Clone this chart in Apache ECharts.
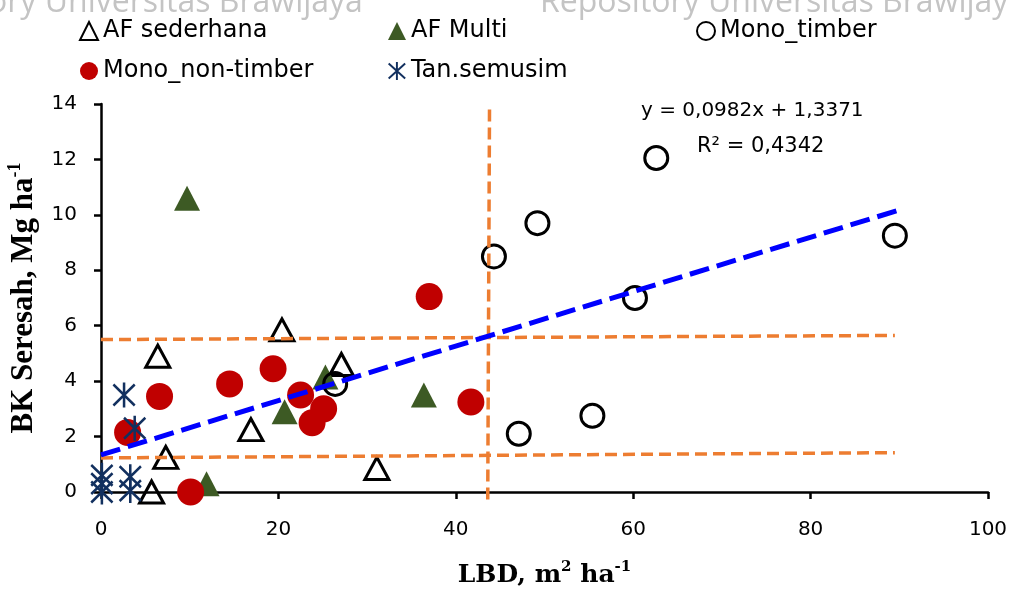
<!DOCTYPE html>
<html>
<head>
<meta charset="utf-8">
<script src="https://cdn.jsdelivr.net/npm/echarts@6/dist/echarts.min.js"></script>
<style>
  html, body { margin: 0; padding: 0; background: #fff; }
  #chart { width: 1009px; height: 589px; }
</style>
</head>
<body>
<div id="chart"></div>
<script>
// ---------- data ----------
const seriesNames = ['AF sederhana', 'AF Multi', 'Mono_timber', 'Mono_non-timber', 'Tan.semusim'];

const afSederhana = [[5.7, 0.0], [7.3, 1.25], [6.4, 4.9], [16.9, 2.25], [20.4, 5.85], [27.1, 4.6], [31.1, 0.85]];
const afMulti = [[9.7, 10.6], [11.9, 0.3], [20.7, 2.9], [25.3, 4.15], [36.4, 3.5]];
const monoTimber = [[26.4, 3.9], [44.3, 8.5], [49.2, 9.7], [62.6, 12.05], [60.2, 7.0], [47.1, 2.1], [55.4, 2.75], [89.5, 9.25]];
const monoNonTimber = [[3.0, 2.15], [6.6, 3.45], [10.1, 0.0], [14.5, 3.9], [19.4, 4.45], [22.5, 3.5], [25.1, 3.0], [23.8, 2.5], [37.0, 7.05], [41.7, 3.25]];
const tanSemusim = [[2.6, 3.5], [3.8, 2.3], [0.1, 0.6], [0.1, 0.3], [0.1, 0.0], [3.3, 0.55], [3.3, 0.05]];

// linear trend (as printed on the chart)
const trendSlope = 0.0982;
const trendIntercept = 1.3371;
const trendXRange = [0, 90];
const equationText = 'y = 0,0982x + 1,3371';
const r2Text = 'R² = 0,4342';

// orange reference (quadrant) lines, endpoints in data units
const refLineUpper = [[0, 5.5], [89.5, 5.65]];
const refLineLower = [[0, 1.23], [89.5, 1.42]];
const refLineVertical = [[43.8, 13.8], [43.6, -0.3]];

// axes
const xAxisTicks = { min: 0, max: 100, interval: 20 };
const yAxisTicks = { min: 0, max: 14, interval: 2 };

// ---------- chart ----------
const asteriskPath = 'path://M0.125,2.962L22.125,22.962L23.875,21.038L1.875,1.038Z' +
  'M22.125,1.038L0.125,21.038L1.875,22.962L23.875,2.962Z' +
  'M10.7,0L10.7,24L13.3,24L13.3,0Z';

const trendData = trendXRange.map(x => [x, trendSlope * x + trendIntercept]);

const chart = echarts.init(document.getElementById('chart'), null, { renderer: 'canvas' });

const axisFont = 'DejaVu Sans';

const orangeLine = (data) => ({
  type: 'line', data: data, symbol: 'none', silent: true, clip: false, z: 4,
  lineStyle: { color: '#ED7D31', width: 3.5, type: [12, 6], opacity: 1 }
});

const option = {
  backgroundColor: '#ffffff',
  animation: false,
  grid: { left: 101, right: 21, top: 104, bottom: 97, outerBoundsMode: 'none', containLabel: false },
  legend: {
    data: seriesNames,
    left: 74, top: 6, width: 950,
    orient: 'horizontal',
    itemWidth: 18, itemHeight: 18, itemGap: 0,
    textStyle: { fontFamily: axisFont, fontSize: 24, color: '#000', width: 285, lineHeight: 40 }
  },
  xAxis: {
    type: 'value', min: xAxisTicks.min, max: xAxisTicks.max, interval: xAxisTicks.interval,
    splitLine: { show: false },
    axisLine: { show: true, onZero: false, lineStyle: { color: '#000', width: 2.5 } },
    axisTick: { show: true, inside: false, length: 7, lineStyle: { color: '#000', width: 2.5 } },
    axisLabel: { fontFamily: axisFont, fontSize: 20, color: '#000', margin: 28 },
    name: 'LBD, m{sup|2} ha{sup|-1}',
    nameLocation: 'middle', nameGap: 68,
    nameTextStyle: {
      fontFamily: 'DejaVu Serif', fontWeight: 'bold', fontSize: 25, color: '#000', lineHeight: 30,
      rich: { sup: { fontFamily: 'DejaVu Serif', fontWeight: 'bold', fontSize: 15, verticalAlign: 'top', lineHeight: 15, color: '#000' } }
    }
  },
  yAxis: {
    type: 'value', min: yAxisTicks.min, max: yAxisTicks.max, interval: yAxisTicks.interval,
    splitLine: { show: false },
    axisLine: { show: true, onZero: false, lineStyle: { color: '#000', width: 2.5 } },
    axisTick: { show: true, inside: false, length: 7, lineStyle: { color: '#000', width: 2.5 } },
    axisLabel: { fontFamily: axisFont, fontSize: 20, color: '#000', margin: 24 },
    name: 'BK Seresah, Mg ha{sup|-1}',
    nameLocation: 'middle', nameGap: 48, nameRotate: 90,
    nameTextStyle: {
      fontFamily: 'Liberation Serif', fontWeight: 'bold', fontSize: 31, color: '#000', lineHeight: 34,
      rich: { sup: { fontFamily: 'Liberation Serif', fontWeight: 'bold', fontSize: 18, verticalAlign: 'top', lineHeight: 18, color: '#000' } }
    }
  },
  graphic: [
    { type: 'text', left: -12, top: -13, silent: true, z: 0,
      style: { text: 'ory Universitas Brawijaya', fontFamily: 'Open Sans', fontSize: 32, fill: '#c4c4c4' } },
    { type: 'text', left: 540, top: -13, silent: true, z: 0,
      style: { text: 'Repository Universitas Brawijaya', fontFamily: 'Open Sans', fontSize: 32, fill: '#c4c4c4' } },
    { type: 'text', left: 641, top: 101, silent: true, z: 10,
      style: { text: equationText, fontFamily: axisFont, fontSize: 20, fill: '#000' } },
    { type: 'text', left: 697, top: 136, silent: true, z: 10,
      style: { text: r2Text, fontFamily: axisFont, fontSize: 21, fill: '#000' } }
  ],
  series: [
    { name: 'AF sederhana', type: 'scatter', data: afSederhana, symbol: 'triangle', symbolSize: [24, 22], z: 2,
      itemStyle: { color: 'rgba(255,255,255,0)', borderColor: '#000', borderWidth: 3, opacity: 1 } },
    { name: 'AF Multi', type: 'scatter', data: afMulti, symbol: 'triangle', symbolSize: [26, 25], z: 2,
      itemStyle: { color: '#3d5a24', borderWidth: 0, opacity: 1 } },
    { name: 'Mono_timber', type: 'scatter', data: monoTimber, symbol: 'circle', symbolSize: 23, z: 2,
      itemStyle: { color: 'rgba(255,255,255,0)', borderColor: '#000', borderWidth: 3, opacity: 1 } },
    { name: 'Mono_non-timber', type: 'scatter', data: monoNonTimber, symbol: 'circle', symbolSize: 27, z: 2,
      itemStyle: { color: '#C00000', borderWidth: 0, opacity: 1 } },
    { name: 'Tan.semusim', type: 'scatter', data: tanSemusim, symbol: asteriskPath, symbolSize: [23, 25], z: 2,
      itemStyle: { color: '#12305f', borderWidth: 0, opacity: 1 } },
    orangeLine(refLineUpper),
    orangeLine(refLineLower),
    orangeLine(refLineVertical),
    { name: 'trend', type: 'line', data: trendData, symbol: 'none', silent: true, z: 5,
      lineStyle: { color: '#0000FF', width: 5, type: [20, 8], opacity: 1 } }
  ]
};

chart.setOption(option);
</script>
</body>
</html>
